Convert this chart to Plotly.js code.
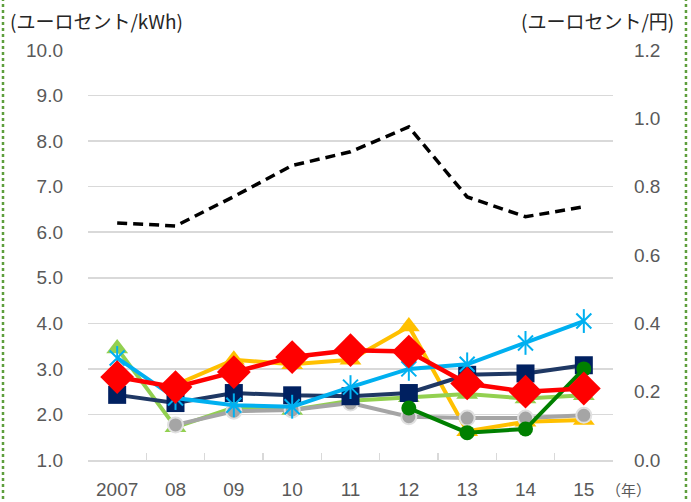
<!DOCTYPE html>
<html>
<head>
<meta charset="utf-8">
<script src="https://cdn.plot.ly/plotly-3.0.1.min.js"></script>
<style>html,body{margin:0;padding:0;background:#fff;}#chart{width:691px;height:502px;}</style>
</head>
<body>
<div id="chart"></div>
<script>
const years = ["2007","08","09","10","11","12","13","14","15"];
const yellowVals   = [null, 2.65, 3.2, 3.1, 3.2, 3.93, 1.63, 1.84, 1.88];
const lightGreenVals = [3.45, 1.72, 2.15, 2.1, 2.3, 2.38, 2.45, 2.35, 2.42];
const grayVals     = [null, 1.77, 2.07, 2.1, 2.25, 1.95, 1.92, 1.92, 1.98];
const navyVals     = [2.43, 2.25, 2.47, 2.42, 2.4, 2.47, 2.87, 2.9, 3.08];
const darkGreenVals = [null, null, null, null, null, 2.14, 1.6, 1.68, 3.0];
const lightBlueVals = [3.24, 2.36, 2.2, 2.17, 2.6, 3.0, 3.1, 3.57, 4.05];
const redVals      = [2.82, 2.6, 2.93, 3.26, 3.41, 3.38, 2.68, 2.5, 2.57];
const dashedVals   = [0.694, 0.685, 0.771, 0.862, 0.902, 0.975, 0.77, 0.712, 0.741];
const leftTicks = [1,2,3,4,5,6,7,8,9,10];
const rightTicks = [0,0.2,0.4,0.6,0.8,1.0,1.2];

const traces = [
  {x: years, y: dashedVals, yaxis: 'y2', mode: 'lines',
   line: {color: '#000000', width: 3.5, dash: '10px,6px'}},
  {x: years, y: yellowVals, mode: 'lines+markers',
   line: {color: '#FFC000', width: 4}, marker: {symbol: 'triangle-up', size: 19, color: '#FFC000'}},
  {x: years, y: lightGreenVals, mode: 'lines+markers',
   line: {color: '#92D050', width: 4}, marker: {symbol: 'triangle-up', size: 19, color: '#92D050'}},
  {x: years, y: grayVals, mode: 'lines+markers',
   line: {color: '#A5A5A5', width: 4}, marker: {symbol: 'circle', size: 15, color: '#A5A5A5', line: {color: '#E0E0E0', width: 2}}},
  {x: years, y: navyVals, mode: 'lines+markers',
   line: {color: '#1F3864', width: 4}, marker: {symbol: 'square', size: 18, color: '#002060'}},
  {x: years, y: darkGreenVals, mode: 'lines+markers',
   line: {color: '#008000', width: 4}, marker: {symbol: 'circle', size: 15, color: '#008000'}},
  {x: years, y: lightBlueVals, mode: 'lines+markers',
   line: {color: '#00B0F0', width: 4}, marker: {symbol: 'x-thin-open', size: 15, color: '#00B0F0', line: {color: '#00B0F0', width: 2}}},
  {x: years, y: lightBlueVals, mode: 'markers',
   marker: {symbol: 'line-ns-open', size: 17, color: '#00B0F0', line: {color: '#00B0F0', width: 2}}},
  {x: years, y: redVals, mode: 'lines+markers',
   line: {color: '#FF0000', width: 4.5}, marker: {symbol: 'diamond', size: 26, color: '#FF0000'}}
];

const tickFont = {family: 'Liberation Sans, Arial, sans-serif', size: 19, color: '#595959'};
const jpFont = {family: 'Noto Sans CJK JP, sans-serif', size: 19, color: '#262626'};

const layout = {
  width: 691, height: 502,
  margin: {l: 88, r: 78, t: 50, b: 42, pad: 0},
  paper_bgcolor: '#ffffff', plot_bgcolor: '#ffffff',
  showlegend: false,
  xaxis: {
    type: 'category', range: [-0.5, 8.5], tickfont: tickFont,
    showgrid: false, showline: true, linecolor: '#D9D9D9', linewidth: 1.5,
    ticks: 'inside', ticklen: 7, tickcolor: '#D9D9D9', tickwidth: 1.5, tickson: 'boundaries',
    ticklabelstandoff: 12, zeroline: false, fixedrange: true
  },
  yaxis: {
    range: [1, 10], tickvals: leftTicks, tickformat: '.1f', tickfont: tickFont,
    showgrid: true, gridcolor: '#D9D9D9', gridwidth: 1.5, zeroline: false, showline: false,
    ticks: '', ticklabelstandoff: 24, fixedrange: true
  },
  yaxis2: {
    range: [0, 1.2], tickvals: rightTicks, tickformat: '.1f', tickfont: tickFont,
    overlaying: 'y', side: 'right', showgrid: false, zeroline: false, showline: false,
    ticks: '', ticklabelstandoff: 20, fixedrange: true
  },
  annotations: [
    {text: '(ユーロセント/kWh)', xref: 'paper', yref: 'paper', x: -0.152, y: 1.073,
     xanchor: 'left', yanchor: 'middle', showarrow: false, font: jpFont},
    {text: '(ユーロセント/円)', xref: 'paper', yref: 'paper', x: 1.12, y: 1.073,
     xanchor: 'right', yanchor: 'middle', showarrow: false, font: jpFont},
    {text: '（年）', xref: 'paper', yref: 'paper', x: 1.030, y: -0.072,
     xanchor: 'center', yanchor: 'middle', showarrow: false, borderpad: 0,
     font: {family: 'Noto Sans CJK JP, sans-serif', size: 15, color: '#595959'}}
  ],
  shapes: [
    {type: 'line', xref: 'paper', yref: 'paper', x0: -0.1619, x1: -0.1619, y0: -0.11, y1: 1.13,
     line: {color: '#5E9E3C', width: 2.5, dash: 'dot'}},
    {type: 'line', xref: 'paper', yref: 'paper', x0: 1.139, x1: 1.139, y0: -0.11, y1: 1.13,
     line: {color: '#5E9E3C', width: 2.5, dash: 'dot'}}
  ]
};

Plotly.newPlot('chart', traces, layout, {displayModeBar: false, staticPlot: true});
</script>
</body>
</html>
